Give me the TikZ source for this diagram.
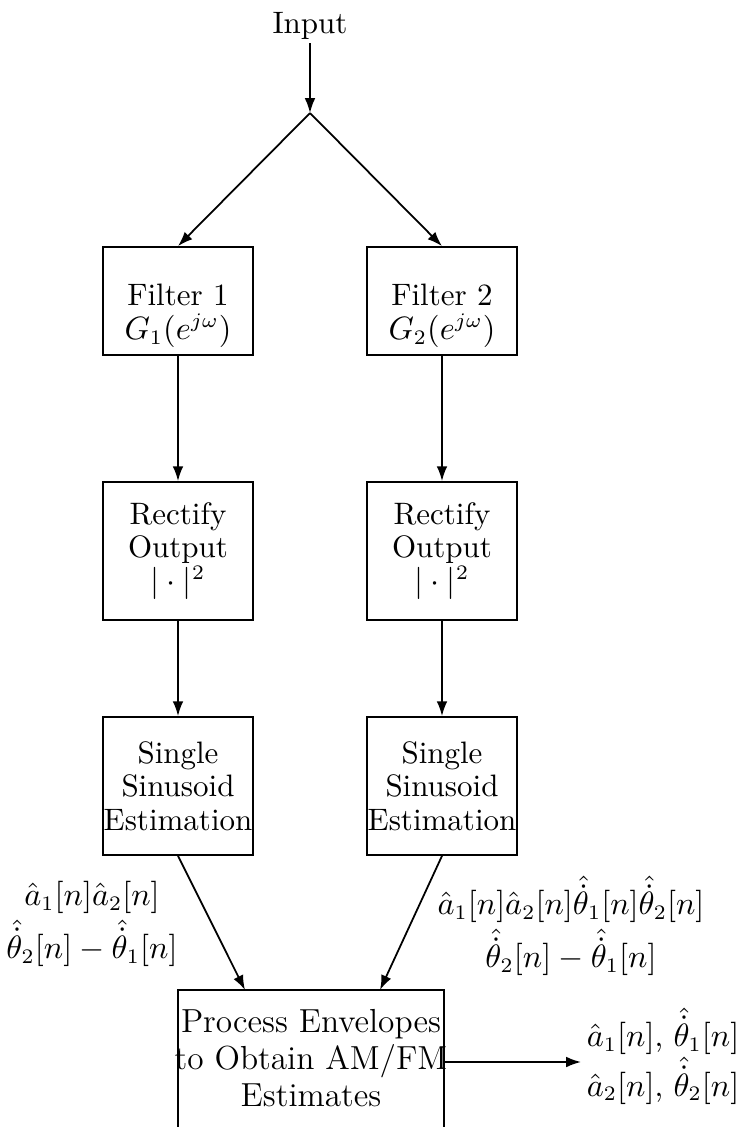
\documentclass[tikz,border=0pt]{standalone}
\usepackage{amsmath}
\usetikzlibrary{arrows.meta}
\def\PX{0.3388pt}
\begin{document}
\begin{tikzpicture}[x=0.3388pt,y=-0.3388pt,
  line width=0.6pt,
  font=\fontsize{10.5}{11.4}\selectfont,
  blk/.style={draw, inner sep=0pt, align=center, minimum width=150*\PX},
  txt/.style={inner sep=0pt, align=center},
  arr/.style={-{Latex[length=5pt,width=3.6pt]}},
  lbl/.style={inner sep=0pt, align=center}]
\useasboundingbox (0,0) rectangle (738,1127);
\node[inner sep=1pt] (in) at (310,26) {Input};
\coordinate (j) at (310,113);
\node[blk, minimum height=108*\PX] (f1) at (178,301) {};
\node[blk, minimum height=108*\PX] (f2) at (442,301) {};
\node[txt] (f1t) at (178,316) {Filter 1\\ $G_1(e^{j\omega})$};
\node[txt] (f2t) at (442,316) {Filter 2\\ $G_2(e^{j\omega})$};
\node[blk, minimum height=138*\PX] (r1) at (178,551) {Rectify\\ Output\\ $|\cdot|^2$};
\node[blk, minimum height=138*\PX] (r2) at (442,551) {Rectify\\ Output\\ $|\cdot|^2$};
\node[blk, minimum height=138*\PX] (s1) at (178,786) {Single\\ Sinusoid\\ Estimation};
\node[blk, minimum height=138*\PX] (s2) at (442,786) {Single\\ Sinusoid\\ Estimation};
\node[blk, minimum width=266*\PX, minimum height=150*\PX, font=\fontsize{11.3}{12.6}\selectfont] (p) at (311,1065) {};
\node[txt, font=\fontsize{11.3}{12.6}\selectfont] (pt) at (311,1058) {Process Envelopes\\ to Obtain AM/FM\\ Estimates};
\coordinate (pl) at (245,990);
\coordinate (pr) at (380,990);
\coordinate (po) at (581,1062);
\node[lbl] (l1) at (92,924) {$\hat a_1[n]\hat a_2[n]$\\[1pt] $\hat{\dot\theta}_2[n]-\hat{\dot\theta}_1[n]$};
\node[lbl] (l2) at (571,926) {$\hat a_1[n]\hat a_2[n]\hat{\dot\theta}_1[n]\hat{\dot\theta}_2[n]$\\[1pt] $\hat{\dot\theta}_2[n]-\hat{\dot\theta}_1[n]$};
\node[lbl, anchor=west] (out) at (586,1056) {$\hat a_1[n]$, $\hat{\dot\theta}_1[n]$\\[0pt] $\hat a_2[n]$, $\hat{\dot\theta}_2[n]$};
\draw[arr] (in) -- (j);
\draw[arr] (j) -- (f1.north);
\draw[arr] (j) -- (f2.north);
\draw[arr] (f1) -- (r1);
\draw[arr] (f2) -- (r2);
\draw[arr] (r1) -- (s1);
\draw[arr] (r2) -- (s2);
\draw[arr] (s1.south) -- (pl);
\draw[arr] (s2.south) -- (pr);
\draw[arr] (p.east |- po) -- (po);
\end{tikzpicture}
\end{document}
